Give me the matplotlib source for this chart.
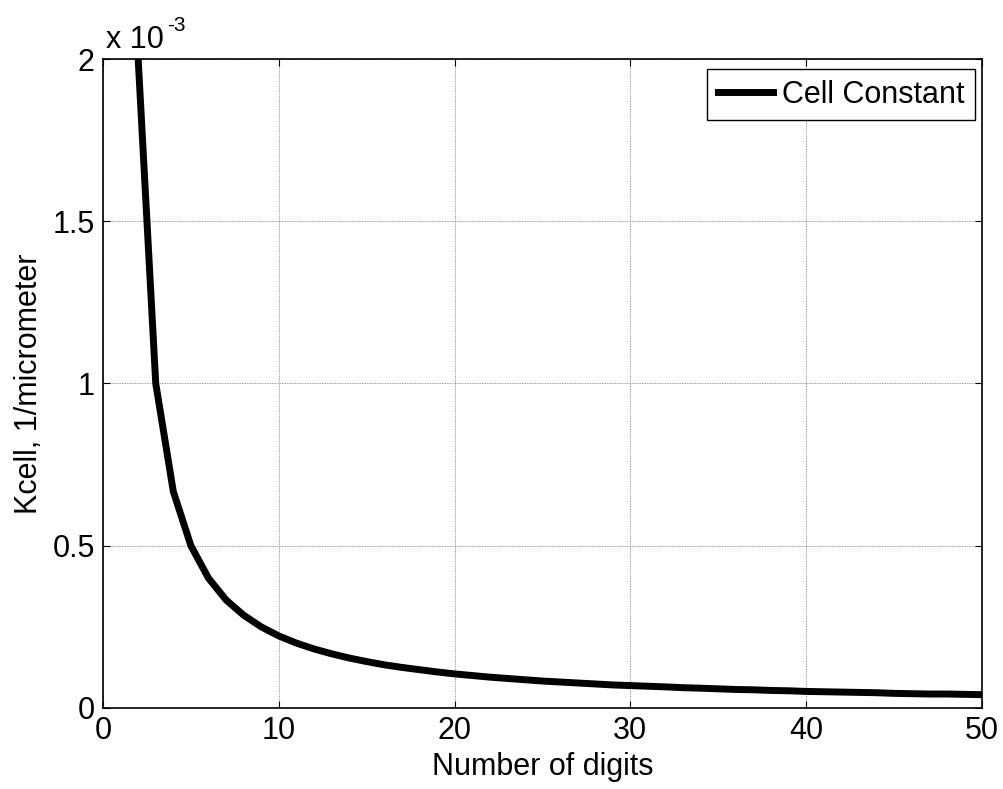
import matplotlib
matplotlib.use('Agg')
import matplotlib.pyplot as plt
from matplotlib.ticker import FuncFormatter

plt.rcParams['font.family'] = ['Liberation Sans', 'DejaVu Sans']

# number of digits and cell constant (in units of 1e-3 1/micrometer)
digits = list(range(2, 51))
kcell = [2.0, 1.0, 0.667, 0.5, 0.4, 0.333, 0.286, 0.25, 0.222, 0.2,
         0.182, 0.167, 0.154, 0.143, 0.133, 0.125, 0.118, 0.111, 0.105, 0.1,
         0.095, 0.091, 0.087, 0.083, 0.08, 0.077, 0.074, 0.071, 0.069, 0.067,
         0.065, 0.0625, 0.061, 0.059, 0.057, 0.056, 0.054, 0.053, 0.051, 0.05,
         0.049, 0.048, 0.047, 0.045, 0.044, 0.043, 0.043, 0.042, 0.041]

fig = plt.figure(figsize=(10.04, 7.89), dpi=100)
ax = fig.add_axes([0.1026, 0.1027, 0.8754, 0.8225])

ax.plot(digits, kcell, color='black', linewidth=5, label='Cell Constant',
        solid_joinstyle='miter', zorder=3)

ax.set_xlim(0, 50)
ax.set_ylim(0, 2)
ax.set_xticks([0, 10, 20, 30, 40, 50])
ax.set_yticks([0, 0.5, 1, 1.5, 2])
ax.yaxis.set_major_formatter(FuncFormatter(lambda v, p: f'{v:g}'))

ax.grid(True, color='#808080', linestyle=(0, (1, 1)), linewidth=0.6)
ax.tick_params(direction='in', length=5, width=0.8, labelsize=22,
               top=True, right=True, pad=6)
for s in ax.spines.values():
    s.set_linewidth(1.2)

ax.set_xlabel('Number of digits', fontsize=22, labelpad=4)
ax.set_ylabel('Kcell, 1/micrometer', fontsize=22, labelpad=6)

# MATLAB style exponent label
ax.annotate('x 10', xy=(0, 1), xycoords='axes fraction', xytext=(2, 3),
            textcoords='offset points', fontsize=22, ha='left', va='bottom')
ax.annotate('-3', xy=(0, 1), xycoords='axes fraction', xytext=(46, 17),
            textcoords='offset points', fontsize=15, ha='left', va='bottom')

leg = ax.legend(loc='upper right', fontsize=22, handlelength=1.8,
                fancybox=False, framealpha=1, edgecolor='black',
                borderpad=0.35, handletextpad=0.3, borderaxespad=0,
                bbox_to_anchor=(0.992, 0.9846))
leg.get_frame().set_linewidth(1.0)

plt.savefig('out.png', dpi=100)
